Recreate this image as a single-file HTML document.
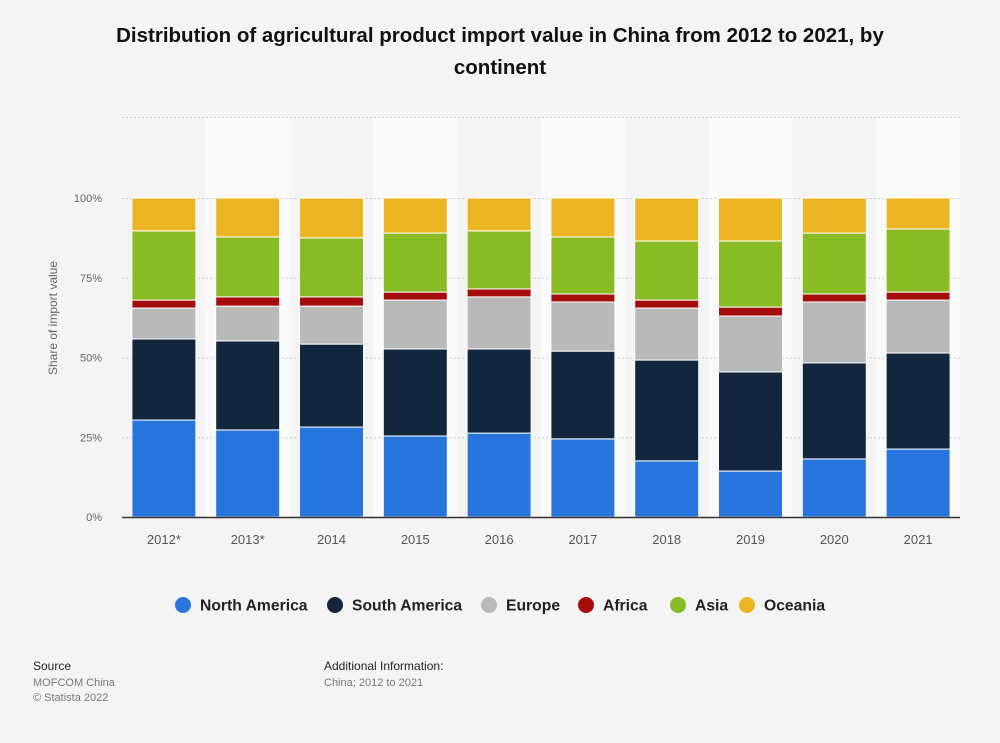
<!DOCTYPE html>
<html><head><meta charset="utf-8"><style>
body{margin:0;background:#f4f4f4;font-family:"Liberation Sans",sans-serif;}
#wrap{position:relative;width:1000px;height:743px;overflow:hidden;}
</style></head><body>
<div id="wrap">
<svg id="chart" width="1000" height="743">
<text x="500" y="42" text-anchor="middle" font-size="20.5" font-weight="bold" fill="#111">Distribution of agricultural product import value in China from 2012 to 2021, by</text>
<text x="500" y="74" text-anchor="middle" font-size="20.5" font-weight="bold" fill="#111">continent</text>
<text transform="translate(57,318) rotate(-90)" text-anchor="middle" font-size="12" fill="#666">Share of import value</text>
<g id="bands"></g><g id="grid"></g><g id="bars"></g><g id="xlabels"></g>
<line x1="122" x2="960" y1="517.5" y2="517.5" stroke="#333" stroke-width="1.5"/>
<g id="legend"></g>
<text x="33" y="670" font-size="12" fill="#222">Source</text>
<text x="33" y="686" font-size="11" fill="#777">MOFCOM China</text>
<text x="33" y="701" font-size="11" fill="#777">© Statista 2022</text>
<text x="324" y="670" font-size="12" fill="#222">Additional Information:</text>
<text x="324" y="686" font-size="11" fill="#777">China; 2012 to 2021</text>
</svg>
</div>
<script>
const categories=["2012*","2013*","2014","2015","2016","2017","2018","2019","2020","2021"];
const seriesNames=["North America","South America","Europe","Africa","Asia","Oceania"];
const northAmerica=[30.4,27.3,28.2,25.4,26.3,24.5,17.6,14.4,18.2,21.3];
const southAmerica=[25.4,27.9,26.0,27.3,26.4,27.5,31.6,31.1,30.1,30.1];
const europe=[9.7,10.9,11.9,15.3,16.3,15.4,16.3,17.5,19.1,16.6];
const africa=[2.5,2.9,2.9,2.5,2.5,2.5,2.5,2.8,2.5,2.5];
const asia=[21.7,18.8,18.5,18.5,18.2,17.9,18.5,20.7,19.1,19.8];
const oceania=[10.3,12.2,12.5,11,10.3,12.2,13.5,13.5,11,9.7];
const yTicks=[0,25,50,75,100];
const colors=["#2876dd","#12263e","#b9b9b9","#a50d0d","#89bb25","#ecb524"];
const series=[northAmerica,southAmerica,europe,africa,asia,oceania];
const NS="http://www.w3.org/2000/svg";
const x0=122,x1=960,yBase=517,yTop=198;
const step=(x1-x0)/categories.length;
const y=v=>yBase-(v/100)*(yBase-yTop);
const xc=i=>x0+step*(i+0.5);
function mk(tag,attrs,parent){const e=document.createElementNS(NS,tag);for(const k in attrs)e.setAttribute(k,attrs[k]);parent.appendChild(e);return e;}
const bands=document.getElementById('bands'),grid=document.getElementById('grid'),bars=document.getElementById('bars'),xl=document.getElementById('xlabels'),lg=document.getElementById('legend');
categories.forEach((c,i)=>{if(i%2==1){const r=mk('rect',{x:x0+step*i,y:117,width:step,height:400,fill:'#fafafa'},bands);

}});
mk('line',{x1:x0,x2:x1,y1:117.5,y2:117.5,stroke:'#ccc','stroke-dasharray':'2,2'},grid);
yTicks.forEach(t=>{if(t>0){const l=mk('line',{x1:x0,x2:x1,y1:y(t)+0.5,y2:y(t)+0.5,stroke:'#ccc','stroke-dasharray':'2,2'},grid);

}
const tx=mk('text',{x:102,y:y(t)+4,'text-anchor':'end','font-size':11,fill:'#666'},grid);tx.textContent=t+'%';

});
const bw=64;
categories.forEach((c,i)=>{let acc=0;series.forEach((s,k)=>{const v=s[i];const r=mk('rect',{x:xc(i)-bw/2,y:y(acc+v),width:bw,height:y(acc)-y(acc+v),fill:colors[k],stroke:'#fff','stroke-width':1},bars);


acc+=v;});
const t=mk('text',{x:xc(i),y:544,'text-anchor':'middle','font-size':13,fill:'#555'},xl);t.textContent=c;

});
const lx=[183,335,489,586,678,747];
seriesNames.forEach((n,k)=>{const g=mk('g',{},lg);


mk('circle',{cx:lx[k],cy:605,r:8,fill:colors[k]},g);
const t=mk('text',{x:lx[k]+17,y:610.5,'font-size':15.7,'font-weight':'bold',fill:'#222'},g);t.textContent=n;});
</script>
</body></html>
